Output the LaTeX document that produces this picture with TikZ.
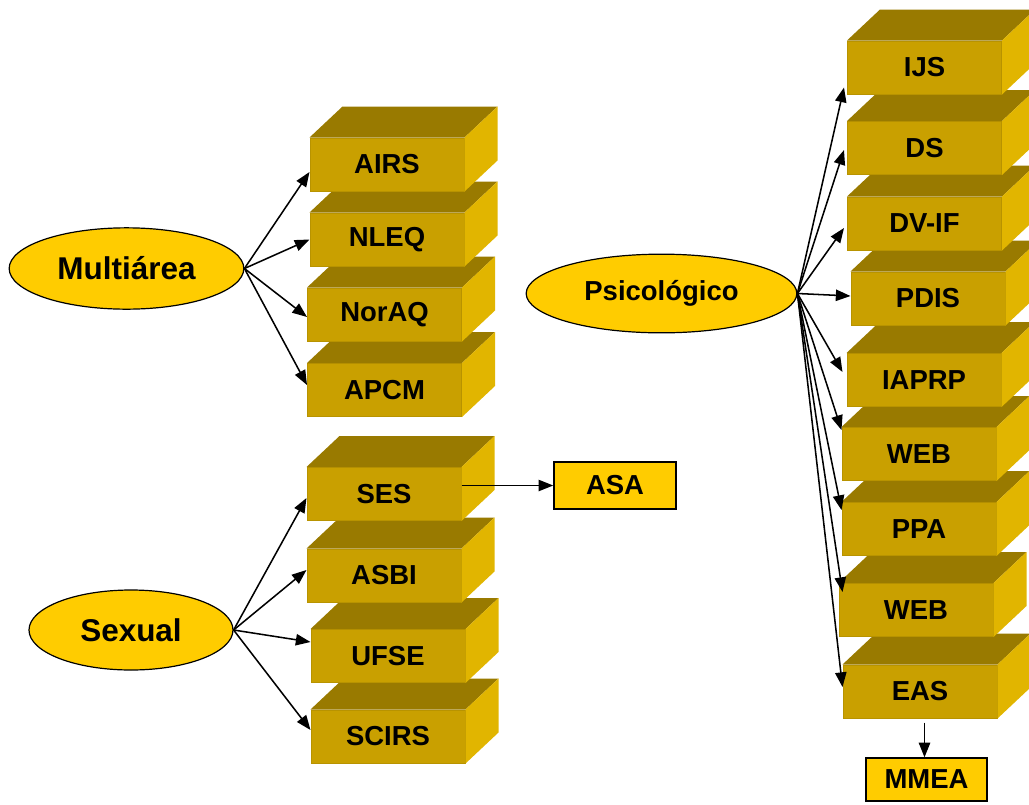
\documentclass[tikz,border=0pt]{standalone}
\usepackage{fontspec}
\setmainfont{Liberation Sans}
\usetikzlibrary{arrows.meta,calc,shapes.geometric}

\definecolor{frontc}{RGB}{201,160,0}
\definecolor{edgec}{RGB}{184,147,0}
\definecolor{topc}{RGB}{153,122,0}
\definecolor{sidec}{RGB}{225,181,0}
\definecolor{goldc}{RGB}{255,204,0}

\tikzset{
  front/.style={rectangle, fill=frontc, draw=edgec, line width=0.75pt,
    minimum width=115.5pt, minimum height=39.75pt, inner sep=0pt,
    font=\fontsize{20.6}{24}\selectfont\bfseries},
  topface/.style={fill=topc},
  sideface/.style={fill=sidec},
  category/.style={ellipse, fill=goldc, draw=black, line width=0.9pt, inner sep=0pt,
    font=\fontsize{23.6}{28}\selectfont\bfseries},
  smallcat/.style={category, font=\fontsize{20.6}{24}\selectfont\bfseries},
  plainbox/.style={rectangle, fill=goldc, draw=black, line width=1.2pt, inner sep=0pt,
    font=\fontsize{20.6}{24}\selectfont\bfseries},
  link/.style={draw=black, line width=1.15pt, -{Triangle[length=11pt,width=8.5pt]}},
}

% front face as a node, then the top and right faces of the block
\newcommand\stackbox[3]{%
  \node[front] (#1) at (#2) {#3};
  \fill[topface] (#1.north west) -- ++(33,-31) -- ($(#1.north east)+(33,-31)$) -- (#1.north east) -- cycle;
  \fill[sideface] (#1.north east) -- ++(33,-31) -- ($(#1.south east)+(33,-31)$) -- (#1.south east) -- cycle;
}

\begin{document}
\begin{tikzpicture}[x=0.75pt,y=-0.75pt]
\useasboundingbox (0,0) rectangle (1029,804);
\clip (0,0) rectangle (1029,804);

% left stack, drawn from the bottom up so upper blocks overlap lower ones
\stackbox{apcm}{384.5,390}{APCM}
\stackbox{noraq}{384.5,314.5}{NorAQ}
\stackbox{nleq}{387,239.5}{NLEQ}
\stackbox{airs}{387,164.5}{AIRS}

\stackbox{scirs}{388,736.5}{SCIRS}
\stackbox{ufse}{388,656}{UFSE}
\stackbox{asbi}{384,575.5}{ASBI}
\stackbox{ses}{384,494}{SES}

% right stack
\stackbox{eas}{920,691.5}{EAS}
\stackbox{webb}{916,610}{WEB}
\stackbox{ppa}{919,529}{PPA}
\stackbox{weba}{919,454}{WEB}
\stackbox{iaprp}{924,380}{IAPRP}
\stackbox{pdis}{928,298.5}{PDIS}
\stackbox{dvif}{924.5,223.5}{DV-IF}
\stackbox{ds}{924.5,148}{DS}
\stackbox{ijs}{924.5,67.5}{IJS}

% categories
\node[category, minimum width=176pt, minimum height=61pt] (multi) at (126.5,268.5) {Multiárea};
\node[category, minimum width=153pt, minimum height=60pt] (sexual) at (131,630) {Sexual};
\node[smallcat, minimum width=203pt, minimum height=59pt] (psico) at (661.5,293.5) {Psicológico};

\node[plainbox, minimum width=91.5pt, minimum height=35pt] (asa) at (615,485.5) {ASA};
\node[plainbox, minimum width=91pt, minimum height=32pt] (mmea) at (926.5,779.5) {MMEA};

% connectors
\draw[link] (multi.east) -- ($(airs.west)+(0,7.5)$);
\draw[link] (multi.east) -- (nleq.west);
\draw[link] (multi.east) -- ($(noraq.west)+(0,2.5)$);
\draw[link] (multi.east) -- ($(apcm.west)+(0,-5)$);

\draw[link] (sexual.east) -- ($(ses.west)+(0,4)$);
\draw[link] (sexual.east) -- ($(asbi.west)+(0,-5.5)$);
\draw[link] (sexual.east) -- ($(ufse.west)+(0,-14)$);
\draw[link] (sexual.east) -- ($(scirs.west)+(0,-6.5)$);

\draw[link] (psico.east) -- ($(ijs.west)+(-3,20)$);
\draw[link] (psico.east) -- ($(ds.west)+(-3,2)$);
\draw[link] (psico.east) -- ($(dvif.west)+(-3,4.5)$);
\draw[link] (psico.east) -- ($(pdis.west)+(0,-2.5)$);
\draw[link] (psico.east) -- ($(iaprp.west)+(-4,-8)$);
\draw[link] (psico.east) -- ($(weba.west)+(0,-24)$);
\draw[link] (psico.east) -- ($(ppa.west)+(0,-19)$);
\draw[link] (psico.east) -- ($(webb.west)+(4,-18)$);
\draw[link] (psico.east) -- ($(eas.west)+(0,-4.5)$);

\draw[link] (ses.east |- asa.west) -- (asa.west);
\draw[link] ($(eas.south -| mmea.north)+(-2,4)$) -- ($(mmea.north)+(-2,0)$);
\end{tikzpicture}
\end{document}
